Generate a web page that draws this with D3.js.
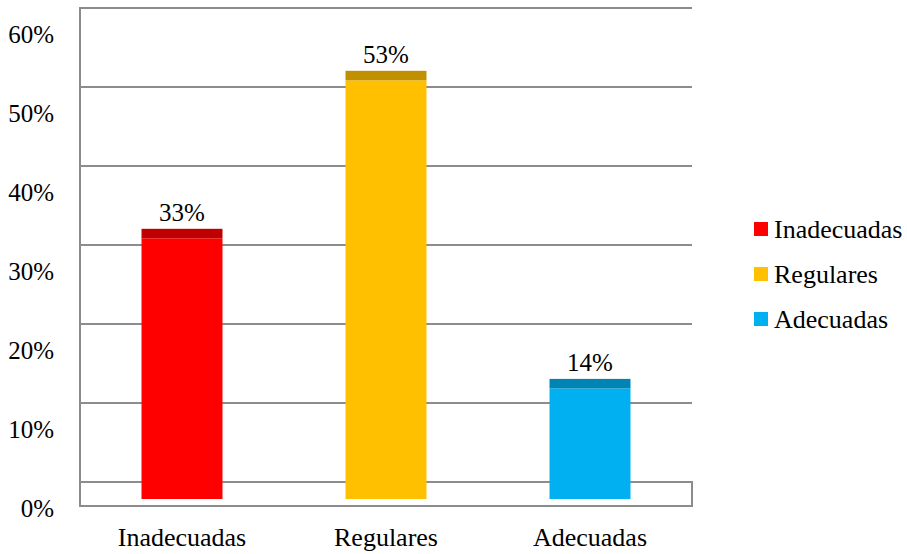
<!DOCTYPE html>
<html><head><meta charset="utf-8">
<script src="https://cdn.jsdelivr.net/npm/d3@7"></script>
</head><body style="margin:0">
<svg id="c" width="907" height="554"></svg>
<script>
const categories = ["Inadecuadas", "Regulares", "Adecuadas"];
const values = [0.33, 0.53, 0.14];
const valueLabels = ["33%", "53%", "14%"];
const tickValues = [0, 0.1, 0.2, 0.3, 0.4, 0.5, 0.6];
const colors = ["#FF0000", "#FFC000", "#00B0F0"];
const topColors = ["#C00000", "#C09000", "#0084B4"];

const FONT = '"Liberation Serif"';
const svg = d3.select("#c");
const x0 = 80, x1 = 692;
const x = d3.scaleBand().domain(categories).range([x0, x1]).paddingInner(0.603).paddingOuter(0.3015);
const yBack = d3.scaleLinear().domain([0, 0.6]).range([482, 8]);
const yFront = d3.scaleLinear().domain([0, 0.6]).range([499, 25]);
const yLabel = d3.scaleLinear().domain([0, 0.6]).range([508, 34]);
const grid = "#8C8C8C";

svg.append("g").selectAll("line").data(tickValues).join("line")
  .attr("x1", x0).attr("x2", x1)
  .attr("y1", d => yBack(d)).attr("y2", d => yBack(d))
  .attr("stroke", grid).attr("stroke-width", 2);
svg.append("rect").attr("x", x0).attr("y", yBack(0)).attr("width", x1 - x0).attr("height", 506 - yBack(0))
  .attr("fill", "none").attr("stroke", grid).attr("stroke-width", 2);
svg.append("line").attr("x1", x0).attr("x2", x0).attr("y1", yBack(0.6) - 1).attr("y2", 507)
  .attr("stroke", grid).attr("stroke-width", 2);

svg.selectAll("text.tick").data(tickValues).join("text").attr("class", "tick")
  .style("font-family", FONT)
  .attr("x", 54).attr("y", d => yLabel(d) + 8.5).attr("text-anchor", "end")
  .attr("font-size", 25)
  .text(d => d3.format(".0%")(d));

const bars = svg.append("g").selectAll("g").data(categories).join("g");
bars.append("rect")
  .attr("x", d => x(d)).attr("width", x.bandwidth())
  .attr("y", (d, i) => yFront(values[i])).attr("height", (d, i) => yFront(0) - yFront(values[i]))
  .attr("fill", (d, i) => colors[i]);
bars.append("rect")
  .attr("x", d => x(d)).attr("width", x.bandwidth())
  .attr("y", (d, i) => yFront(values[i]) - 9.5).attr("height", 9.5)
  .attr("fill", (d, i) => topColors[i]);

svg.selectAll("text.val").data(categories).join("text").attr("class", "val")
  .style("font-family", FONT)
  .attr("x", d => x(d) + x.bandwidth() / 2)
  .attr("y", (d, i) => yFront(values[i]) - 26 + 8.5)
  .attr("text-anchor", "middle").attr("font-size", 25)
  .text((d, i) => valueLabels[i]);

svg.selectAll("text.cat").data(categories).join("text").attr("class", "cat")
  .style("font-family", FONT)
  .attr("x", d => x(d) + x.bandwidth() / 2).attr("y", 546)
  .attr("text-anchor", "middle").attr("font-size", 26)
  .text(d => d);

svg.selectAll("rect.leg").data(categories).join("rect").attr("class", "leg")
  .attr("x", 754).attr("y", (d, i) => 222 + i * 45).attr("width", 14).attr("height", 14)
  .attr("fill", (d, i) => colors[i]);
svg.selectAll("text.leg").data(categories).join("text").attr("class", "leg")
  .style("font-family", FONT)
  .attr("x", 774).attr("y", (d, i) => 238 + i * 45)
  .attr("font-size", 26).text(d => d);
</script>
</body></html>
